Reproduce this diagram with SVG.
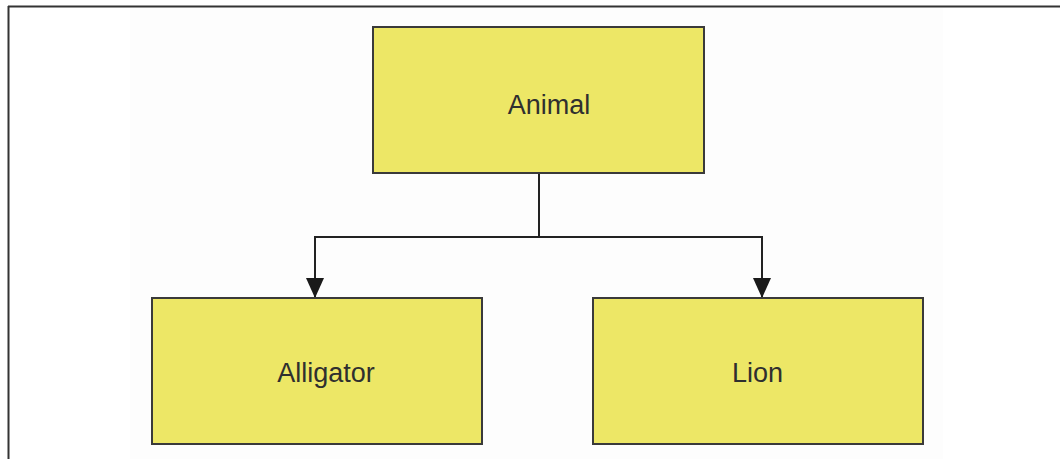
<svg xmlns="http://www.w3.org/2000/svg" width="1060" height="459" viewBox="0 0 1060 459">
  <defs>
    <style>
      .node rect { fill: #ede766; stroke: #3a3a3a; stroke-width: 2; }
      .node text { font-family: "Liberation Sans", Arial, sans-serif; font-size: 27px; fill: #2f2f2f; text-anchor: middle; }
      .conn { fill: none; stroke: #222; stroke-width: 2; }
    </style>
    <marker id="arrow" markerWidth="20" markerHeight="18" refX="20" refY="9" orient="auto" markerUnits="userSpaceOnUse">
      <path d="M0,0 L20,9 L0,18 Z" fill="#1a1a1a"/>
    </marker>
  </defs>
  <rect x="0" y="0" width="1060" height="459" fill="#ffffff"/>
  <rect x="130" y="8" width="813" height="451" fill="#fdfdfd"/>
  <g id="frame" stroke="#333" stroke-width="2" fill="none">
    <line x1="8" y1="6.5" x2="1060" y2="6.5"/>
    <line x1="8.5" y1="6" x2="8.5" y2="459"/>
  </g>
  <g id="connectors">
    <polyline class="conn" points="539,173 539,237"/>
    <polyline class="conn" points="539,237 315,237 315,298" marker-end="url(#arrow)"/>
    <polyline class="conn" points="539,237 762,237 762,298" marker-end="url(#arrow)"/>
  </g>
  <g id="animal" class="node">
    <rect x="373" y="27" width="331" height="146"/>
    <text x="549" y="114">Animal</text>
  </g>
  <g id="alligator" class="node">
    <rect x="152" y="298" width="330" height="146"/>
    <text x="326" y="382">Alligator</text>
  </g>
  <g id="lion" class="node">
    <rect x="593" y="298" width="330" height="146"/>
    <text x="757.5" y="382">Lion</text>
  </g>
</svg>
